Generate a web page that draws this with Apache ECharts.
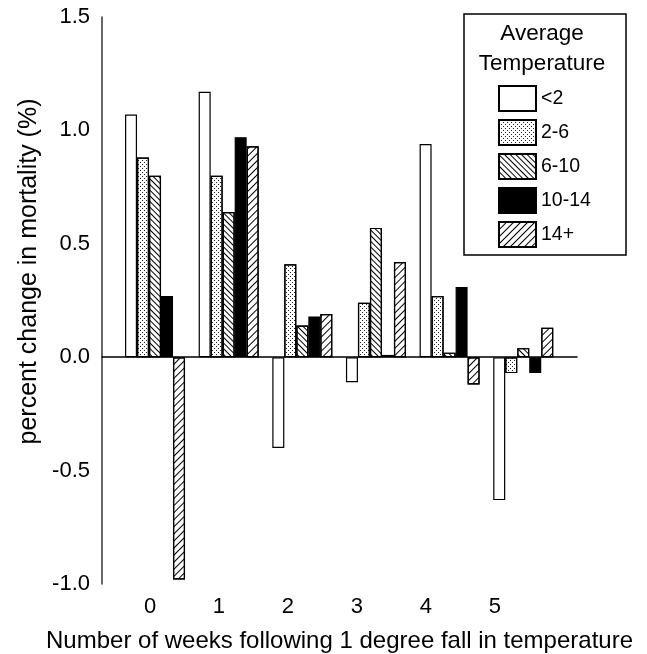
<!DOCTYPE html>
<html lang="en">
<head>
    <meta charset="UTF-8">
    <title>Percent change in mortality</title>
    <script src="https://cdn.jsdelivr.net/npm/echarts@6/dist/echarts.min.js"></script>
    <style>
        html, body { margin: 0; height: 100%; background: #fff; }
        #main { width: 647px; height: 654px; }
    </style>
</head>
<body>
    <div id="main"></div>
    <script>
        // weeks after the temperature fall
        var weeks = [0, 1, 2, 3, 4, 5];
        var tempGroups = ['<2', '2-6', '6-10', '10-14', '14+'];

        // percent change per temperature group
        var below2   = [1.07, 1.17, -0.40, -0.11, 0.94, -0.63];
        var from2to6 = [0.88, 0.80, 0.41, 0.24, 0.27, -0.07];
        var from6to10 = [0.80, 0.64, 0.14, 0.57, 0.02, 0.04];
        var from10to14 = [0.27, 0.97, 0.18, 0.01, 0.31, -0.07];
        var above14  = [-0.98, 0.93, 0.19, 0.42, -0.12, 0.13];

        var font = 'Liberation Sans, Arial, sans-serif';

        function pairs(vals) {
            return weeks.map(function (w, i) { return [w, vals[i]]; });
        }

        // fill patterns
        var dots = { symbol: 'rect', symbolSize: 1, color: '#222',
            dashArrayX: [[1, 3], [0, 2, 1, 1]], dashArrayY: [1, 1] };
        var backSlash = { symbol: 'rect', symbolSize: 1, color: '#000',
            dashArrayX: [1, 0], dashArrayY: [1, 3], rotation: Math.PI / 4 };
        var slash = { symbol: 'rect', symbolSize: 1, color: '#000',
            dashArrayX: [1, 0], dashArrayY: [1, 4], rotation: -Math.PI / 4 };

        function barSeries(name, vals, fill, decal) {
            var style = { color: fill, borderColor: '#000', borderWidth: 1.2 };
            if (decal) style.decal = decal;
            return {
                name: name,
                type: 'bar',
                xAxisIndex: 0,
                data: pairs(vals),
                barWidth: 12,
                barGap: '0%',
                itemStyle: style,
                emphasis: { disabled: true }
            };
        }

        var option = {
            animation: false,
            backgroundColor: '#fff',
            grid: { left: 102, right: 70, top: 17, bottom: 70, outerBoundsMode: 'none' },
            legend: {
                orient: 'vertical',
                left: 493,
                top: 80,
                itemWidth: 37,
                itemHeight: 25,
                itemGap: 7,
                icon: 'rect',
                textStyle: { fontFamily: font, fontSize: 19.5, color: '#000' },
                data: tempGroups
            },
            graphic: [
                {
                    type: 'rect',
                    shape: { x: 464, y: 14, width: 162, height: 241 },
                    style: { fill: 'none', stroke: '#000', lineWidth: 1.5 },
                    z: 10
                },
                {
                    type: 'text',
                    x: 542,
                    y: 19,
                    style: {
                        text: 'Average\nTemperature',
                        textAlign: 'center',
                        font: '22.5px ' + font,
                        lineHeight: 30,
                        fill: '#000'
                    },
                    z: 10
                }
            ],
            xAxis: [
                {
                    type: 'value',
                    min: -0.72,
                    max: 5.73,
                    axisLine: { onZero: true, lineStyle: { color: '#000', width: 1.5 } },
                    axisTick: { show: false },
                    axisLabel: { show: false },
                    splitLine: { show: false }
                },
                {
                    type: 'value',
                    position: 'bottom',
                    min: -0.696,
                    max: 6.19,
                    axisLine: { show: false, onZero: false },
                    axisTick: { show: false },
                    splitLine: { show: false },
                    axisLabel: {
                        customValues: weeks,
                        margin: 12,
                        fontFamily: font,
                        fontSize: 22,
                        color: '#000'
                    },
                    name: 'Number of weeks following 1 degree fall in temperature',
                    nameLocation: 'middle',
                    nameGap: 45,
                    nameTextStyle: { fontFamily: font, fontSize: 24, color: '#000' }
                }
            ],
            yAxis: {
                type: 'value',
                min: -1,
                max: 1.5,
                interval: 0.5,
                axisLine: { show: true, onZero: false, lineStyle: { color: '#333', width: 1.5 } },
                axisTick: { show: false },
                splitLine: { show: false },
                axisLabel: {
                    margin: 12,
                    fontFamily: font,
                    fontSize: 22,
                    color: '#000',
                    formatter: function (v) { return v.toFixed(1); }
                },
                name: 'percent change in mortality (%)',
                nameLocation: 'middle',
                nameGap: 58,
                nameTextStyle: { fontFamily: font, fontSize: 25, color: '#000', padding: [0, 0, 0, 58] }
            },
            series: [
                barSeries(tempGroups[0], below2, '#fff', null),
                barSeries(tempGroups[1], from2to6, '#fff', dots),
                barSeries(tempGroups[2], from6to10, '#fff', backSlash),
                barSeries(tempGroups[3], from10to14, '#000', null),
                barSeries(tempGroups[4], above14, '#fff', slash)
            ]
        };

        var myChart = echarts.init(document.getElementById('main'));
        myChart.setOption(option);
    </script>
</body>
</html>
